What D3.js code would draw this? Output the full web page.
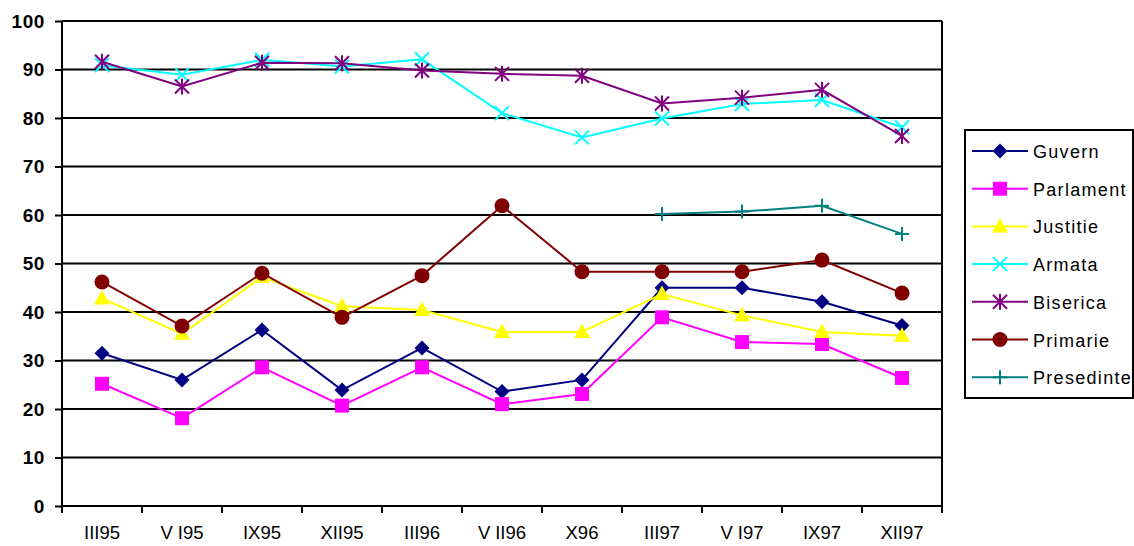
<!DOCTYPE html>
<html>
<head>
<meta charset="utf-8">
<script src="https://cdn.jsdelivr.net/npm/d3@7"></script>
<style>
  html, body { margin: 0; padding: 0; background: #fff; }
  svg { display: block; font-family: "Liberation Sans", Arial, sans-serif; }
</style>
</head>
<body>
<svg id="chart" width="1134" height="546"></svg>
<script>
// Survey periods (x axis)
const periods = ["III95", "VI95", "IX95", "XII95", "III96", "VII96", "X96", "III97", "VI97", "IX97", "XII97"];
const yTicks = [0, 10, 20, 30, 40, 50, 60, 70, 80, 90, 100];

// Trust levels per institution (%)
const guvern     = [31.5, 26.0, 36.3, 23.9, 32.6, 23.6, 26.0, 45.0, 45.0, 42.1, 37.2];
const parlament  = [25.2, 18.1, 28.6, 20.7, 28.6, 21.0, 23.1, 38.9, 33.8, 33.4, 26.4];
const justitie   = [42.8, 35.5, 47.2, 41.2, 40.4, 35.9, 35.9, 43.7, 39.3, 35.9, 35.1];
const armata     = [90.9, 88.9, 92.0, 90.6, 92.1, 81.0, 76.0, 79.9, 82.9, 83.7, 78.1];
const biserica   = [91.6, 86.5, 91.4, 91.3, 89.8, 89.1, 88.7, 83.0, 84.2, 85.8, 76.3];
const primarie   = [46.2, 37.1, 48.0, 38.9, 47.5, 61.9, 48.3, 48.3, 48.3, 50.7, 43.9];
const presedinte = [null, null, null, null, null, null, null, 60.2, 60.7, 61.9, 56.1];

const seriesNames = ["Guvern", "Parlament", "Justitie", "Armata", "Biserica", "Primarie", "Presedinte"];
const seriesValues = [guvern, parlament, justitie, armata, biserica, primarie, presedinte];
const seriesColors = ["#000080", "#FF00FF", "#FFFF00", "#00FFFF", "#800080", "#800000", "#008080"];
const seriesMarkers = ["diamond", "square", "triangle", "cross", "star", "circle", "plus"];

const svg = d3.select("#chart");
const plot = { left: 62, right: 942, top: 21, bottom: 506 };

const x = d3.scaleBand().domain(periods).range([plot.left, plot.right]).padding(0);
const y = d3.scaleLinear().domain([0, 100]).range([plot.bottom, plot.top]);
const cx = d => x(d) + x.bandwidth() / 2;

// Horizontal gridlines
svg.append("g")
  .selectAll("line")
  .data(yTicks.filter(t => t > 0))
  .join("line")
  .attr("x1", plot.left).attr("x2", plot.right)
  .attr("y1", d => y(d)).attr("y2", d => y(d))
  .attr("stroke", "#000").attr("stroke-width", 2);

// Right border of the plot area
svg.append("line")
  .attr("x1", plot.right).attr("x2", plot.right)
  .attr("y1", plot.top).attr("y2", plot.bottom)
  .attr("stroke", "#000").attr("stroke-width", 2);

// Y axis
const yAxis = svg.append("g")
  .attr("transform", `translate(${plot.left},0)`)
  .call(d3.axisLeft(y).tickValues(yTicks).tickSize(7).tickPadding(10));
yAxis.select(".domain").attr("stroke", "#000").attr("stroke-width", 2)
  .attr("d", `M0,${plot.top}V${plot.bottom}`);
yAxis.selectAll(".tick line").attr("stroke", "#000").attr("stroke-width", 2);
yAxis.selectAll(".tick text")
  .attr("fill", "#000")
  .style("font-size", "19px").style("font-weight", "bold").style("letter-spacing", "0.6px")
  .style("font-family", "'Liberation Sans', Arial, sans-serif");

// X axis with ticks at category boundaries
const xAxisG = svg.append("g").attr("transform", `translate(0,${plot.bottom})`);
xAxisG.append("line")
  .attr("x1", plot.left).attr("x2", plot.right)
  .attr("y1", 0).attr("y2", 0)
  .attr("stroke", "#000").attr("stroke-width", 2);
const boundaries = periods.map(p => x(p)).concat([plot.right]);
xAxisG.selectAll("line.tick")
  .data(boundaries)
  .join("line")
  .attr("class", "tick")
  .attr("x1", d => d).attr("x2", d => d)
  .attr("y1", 0).attr("y2", 7)
  .attr("stroke", "#000").attr("stroke-width", 2);
xAxisG.selectAll("text")
  .data(periods)
  .join("text")
  .attr("x", d => cx(d))
  .attr("y", 33)
  .attr("text-anchor", "middle")
  .style("font-size", "18.5px")
  .attr("fill", "#000")
  .each(function(d) {
    // the V-numeral months are set with a wider gap after the V
    const t = d3.select(this);
    if (d.startsWith("VI")) {
      t.append("tspan").text("V");
      t.append("tspan").attr("dx", 5).text(d.slice(1));
    } else {
      t.text(d);
    }
  });

// Marker drawing
function drawMarker(g, type, color) {
  const s = 7.5;
  switch (type) {
    case "diamond":
      g.append("path").attr("d", `M0,${-s}L${s},0L0,${s}L${-s},0Z`).attr("fill", color);
      break;
    case "square":
      g.append("rect").attr("x", -7).attr("y", -7).attr("width", 14).attr("height", 14).attr("fill", color);
      break;
    case "triangle":
      g.append("path").attr("d", `M0,-8.5L8,6L-8,6Z`).attr("fill", color);
      break;
    case "circle":
      g.append("circle").attr("r", 7.5).attr("fill", color);
      break;
    case "cross":
      g.append("path").attr("d", `M-7,-7L7,7M-7,7L7,-7`).attr("stroke", color).attr("stroke-width", 2).attr("fill", "none");
      break;
    case "star":
      g.append("path").attr("d", `M-7,-7L7,7M-7,7L7,-7M0,-8V8`).attr("stroke", color).attr("stroke-width", 2).attr("fill", "none");
      break;
    case "plus":
      g.append("path").attr("d", `M-7,0H7M0,-7V7`).attr("stroke", color).attr("stroke-width", 2).attr("fill", "none");
      break;
  }
}

// Series lines and markers
const line = d3.line()
  .defined(d => d.v !== null)
  .x(d => cx(d.p))
  .y(d => y(d.v));

seriesNames.forEach((name, i) => {
  const pts = periods.map((p, j) => ({ p, v: seriesValues[i][j] }));
  const g = svg.append("g");
  g.append("path")
    .datum(pts)
    .attr("d", line)
    .attr("fill", "none")
    .attr("stroke", seriesColors[i])
    .attr("stroke-width", 2);
  pts.filter(d => d.v !== null).forEach(d => {
    const m = g.append("g").attr("transform", `translate(${cx(d.p)},${y(d.v)})`);
    drawMarker(m, seriesMarkers[i], seriesColors[i]);
  });
});

// Legend
const legend = svg.append("g");
legend.append("rect")
  .attr("x", 965).attr("y", 130).attr("width", 168).attr("height", 268)
  .attr("fill", "#fff").attr("stroke", "#000").attr("stroke-width", 2);
seriesNames.forEach((name, i) => {
  const ly = 151 + i * 37.7;
  const row = legend.append("g");
  row.append("line")
    .attr("x1", 972).attr("x2", 1028).attr("y1", ly).attr("y2", ly)
    .attr("stroke", seriesColors[i]).attr("stroke-width", 2);
  const m = row.append("g").attr("transform", `translate(1000,${ly})`);
  drawMarker(m, seriesMarkers[i], seriesColors[i]);
  row.append("text")
    .attr("x", 1033).attr("y", ly + 7)
    .style("font-size", "18px").style("letter-spacing", "1.3px")
    .attr("fill", "#000")
    .text(name);
});
</script>
</body>
</html>
